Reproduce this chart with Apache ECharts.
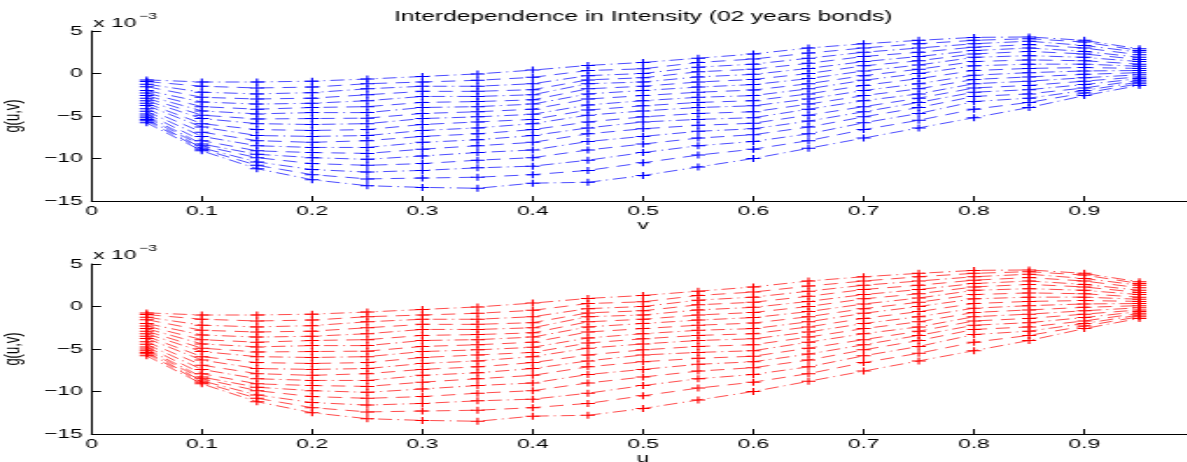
<!DOCTYPE html>
<html>
<head>
<meta charset="utf-8">
<script src="https://cdn.jsdelivr.net/npm/echarts@6/dist/echarts.min.js"></script>
<style>
  html, body { margin: 0; padding: 0; background: #fff; overflow: hidden; }
  #wrap { width: 1187px; height: 462px; overflow: hidden; }
  /* the figure is laid out narrow and stretched horizontally */
  #chart { width: 700px; height: 462px; transform: scaleX(1.75); transform-origin: 0 0; }
</style>
</head>
<body>
<div id="wrap"><div id="chart"></div></div>
<script>
// grid points along the horizontal variable
const v = [0.05, 0.10, 0.15, 0.20, 0.25, 0.30, 0.35, 0.40, 0.45, 0.50,
           0.55, 0.60, 0.65, 0.70, 0.75, 0.80, 0.85, 0.90, 0.95];

// g(u,v) in units of 1e-3: the 19 values found at each grid point, highest first
const g05 = [-0.75, -0.95, -1.25, -1.55, -2.0, -2.3, -2.6, -2.9, -3.2, -3.5, -3.75, -4.15, -4.45, -4.75, -5.0, -5.2, -5.4, -5.55, -5.8];
const g10 = [-1.0, -1.5, -2.2, -2.8, -3.35, -3.9, -4.4, -4.9, -5.3, -5.9, -6.3, -6.9, -7.4, -7.9, -8.3, -8.5, -8.75, -8.9, -9.1];
const g15 = [-1.0, -1.7, -2.4, -3.0, -3.6, -4.2, -4.75, -5.35, -5.9, -6.6, -7.3, -7.9, -8.5, -9.1, -9.5, -9.9, -10.4, -10.8, -11.2];
const g20 = [-0.9, -1.6, -2.25, -2.9, -3.5, -4.0, -4.6, -5.3, -6.0, -6.7, -7.4, -8.1, -8.7, -9.3, -9.9, -10.6, -11.3, -11.9, -12.5];
const g25 = [-0.65, -1.2, -1.8, -2.5, -3.2, -3.9, -4.6, -5.25, -5.9, -6.6, -7.3, -7.9, -8.7, -9.4, -10.1, -10.8, -11.6, -12.4, -13.2];
const g30 = [-0.35, -1.0, -1.5, -2.1, -2.7, -3.4, -4.0, -4.7, -5.3, -6.0, -6.7, -7.4, -8.1, -8.9, -9.7, -10.6, -11.4, -12.3, -13.4];
const g35 = [-0.05, -0.8, -1.5, -2.1, -2.7, -3.3, -3.9, -4.5, -5.1, -5.7, -6.4, -7.1, -7.8, -8.5, -9.3, -10.2, -11.1, -12.2, -13.5];
const g40 = [0.4, -0.45, -1.2, -1.9, -2.5, -3.1, -3.6, -4.2, -4.8, -5.4, -5.9, -6.6, -7.3, -8.1, -9.0, -9.9, -10.9, -11.9, -12.9];
const g45 = [0.95, 0.35, -0.25, -0.75, -1.2, -1.8, -2.4, -3.0, -3.7, -4.3, -4.9, -5.7, -6.4, -7.1, -8.0, -9.0, -10.2, -11.4, -12.8];
const g50 = [1.3, 0.55, 0.0, -0.5, -1.0, -1.5, -2.0, -2.6, -3.2, -3.8, -4.4, -5.1, -5.7, -6.5, -7.4, -8.3, -9.3, -10.5, -12.0];
const g55 = [1.8, 1.3, 0.75, 0.2, -0.4, -1.0, -1.6, -2.2, -2.8, -3.4, -4.0, -4.7, -5.4, -6.1, -6.8, -7.6, -8.5, -9.6, -11.0];
const g60 = [2.3, 1.7, 1.1, 0.5, -0.1, -0.7, -1.3, -1.95, -2.6, -3.2, -3.8, -4.5, -5.2, -5.85, -6.5, -7.2, -8.0, -8.9, -10.0];
const g65 = [3.0, 2.4, 1.8, 1.2, 0.6, 0.0, -0.6, -1.2, -1.8, -2.4, -3.0, -3.6, -4.2, -4.9, -5.6, -6.3, -7.1, -7.9, -8.8];
const g70 = [3.5, 3.0, 2.5, 2.0, 1.4, 0.9, 0.3, -0.25, -0.8, -1.4, -2.0, -2.6, -3.2, -3.9, -4.5, -5.1, -5.8, -6.6, -7.6];
const g75 = [3.9, 3.5, 3.0, 2.5, 2.0, 1.5, 1.0, 0.5, 0.0, -0.6, -1.2, -1.8, -2.4, -2.9, -3.4, -4.0, -4.7, -5.5, -6.4];
const g80 = [4.25, 3.9, 3.5, 3.1, 2.7, 2.3, 1.9, 1.4, 0.9, 0.35, -0.2, -0.7, -1.2, -1.7, -2.2, -2.7, -3.3, -4.2, -5.2];
const g85 = [4.3, 4.1, 3.8, 3.4, 3.0, 2.6, 2.1, 1.6, 1.1, 0.6, 0.1, -0.4, -0.9, -1.4, -1.9, -2.4, -2.9, -3.4, -4.0];
const g90 = [3.9, 3.7, 3.3, 3.0, 2.6, 2.3, 1.9, 1.5, 1.1, 0.7, 0.3, -0.1, -0.5, -0.9, -1.3, -1.7, -2.0, -2.3, -2.6];
const g95 = [2.9, 2.7, 2.5, 2.2, 1.9, 1.65, 1.4, 1.1, 0.85, 0.6, 0.35, 0.1, -0.15, -0.4, -0.6, -0.8, -1.0, -1.2, -1.4];

const yTicks = [-15, -10, -5, 0, 5];
const xTicks = [0, 0.1, 0.2, 0.3, 0.4, 0.5, 0.6, 0.7, 0.8, 0.9, 1];

const columns = [g05, g10, g15, g20, g25, g30, g35, g40, g45, g50,
                 g55, g60, g65, g70, g75, g80, g85, g90, g95];

// one curve per rank, running across the grid points
const curves = columns[0].map((_, k) => v.map((x, i) => [x, columns[i][k]]));

const FONT = '"Liberation Sans", Arial, sans-serif';
// '+' marker drawn as a filled cross in an 8 x 7 box
const PLUS = 'path://M3.45,0 h1.1 v3 h3.45 v1 h-3.45 v3 h-1.1 v-3 h-3.45 v-1 h3.45 z';
const DASH = [8, 5];
const DASHDOT = [8, 3, 1, 3];

const minus = s => String(s).replace('-', '\u2212');

function xAxisOf(gridIndex, name) {
  return {
    type: 'value', gridIndex, min: 0, max: 1, interval: 0.1,
    name, nameLocation: 'middle', nameGap: 17,
    nameTextStyle: { color: '#000', fontSize: 13, fontFamily: FONT },
    axisLine: { show: true, onZero: false, lineStyle: { color: '#000', width: 1 } },
    axisTick: { show: true, inside: true, length: 5, lineStyle: { color: '#000' } },
    axisLabel: {
      color: '#000', fontSize: 13, fontFamily: FONT, margin: 4,
      formatter: val => xTicks.includes(Math.round(val * 10) / 10) ? String(Math.round(val * 10) / 10) : ''
    },
    splitLine: { show: false }
  };
}

function yAxisOf(gridIndex) {
  return {
    type: 'value', gridIndex, min: -15, max: 5, interval: 5,
    name: 'g(u,v)', nameLocation: 'middle', nameGap: 31,
    nameTextStyle: { color: '#000', fontSize: 13, fontFamily: FONT },
    axisLine: { show: true, onZero: false, lineStyle: { color: '#000', width: 1 } },
    axisTick: { show: true, inside: true, length: 5.5, lineStyle: { color: '#000' } },
    axisLabel: {
      color: '#000', fontSize: 13, fontFamily: FONT, margin: 5,
      formatter: val => yTicks.includes(val) ? minus(val) : ''
    },
    splitLine: { show: false }
  };
}

function seriesFor(axisIndex, color) {
  return curves.map((data, k) => ({
    type: 'line',
    xAxisIndex: axisIndex, yAxisIndex: axisIndex,
    data,
    symbol: PLUS,
    symbolSize: [8, 7],
    itemStyle: { color },
    lineStyle: { color, width: 0.7, type: k % 2 === 0 ? DASHDOT : DASH },
    silent: true,
    animation: false,
    z: 2
  }));
}

function exponentLabel(top) {
  return [
    { type: 'text', x: 53.3, y: top,
      style: { text: 'x 10', font: '13px ' + FONT, fill: '#000',
               align: 'left', verticalAlign: 'middle',
               textAlign: 'left', textVerticalAlign: 'middle' } },
    { type: 'text', x: 79.5, y: top - 7,
      style: { text: '\u22123', font: '9px ' + FONT, fill: '#000',
               align: 'left', verticalAlign: 'middle',
               textAlign: 'left', textVerticalAlign: 'middle' } }
  ];
}

const chart = echarts.init(document.getElementById('chart'), null, { renderer: 'canvas' });
chart.setOption({
  backgroundColor: '#fff',
  animation: false,
  grid: [
    { left: 52.3, right: 17.4, top: 31, height: 170, outerBoundsMode: 'none', containLabel: false },
    { left: 52.3, right: 17.4, top: 264, height: 170, outerBoundsMode: 'none', containLabel: false }
  ],
  xAxis: [xAxisOf(0, 'v'), xAxisOf(1, 'u')],
  yAxis: [yAxisOf(0), yAxisOf(1)],
  graphic: [
    { type: 'text', x: 367.6, y: 17.5,
      style: { text: 'Interdependence in Intensity (02 years bonds)', font: '14px ' + FONT,
               fill: '#000', align: 'center', verticalAlign: 'middle',
               textAlign: 'center', textVerticalAlign: 'middle' } },
    ...exponentLabel(23.3),
    ...exponentLabel(255.5)
  ],
  series: [...seriesFor(0, '#0000ff'), ...seriesFor(1, '#ff0000')]
});
</script>
</body>
</html>
